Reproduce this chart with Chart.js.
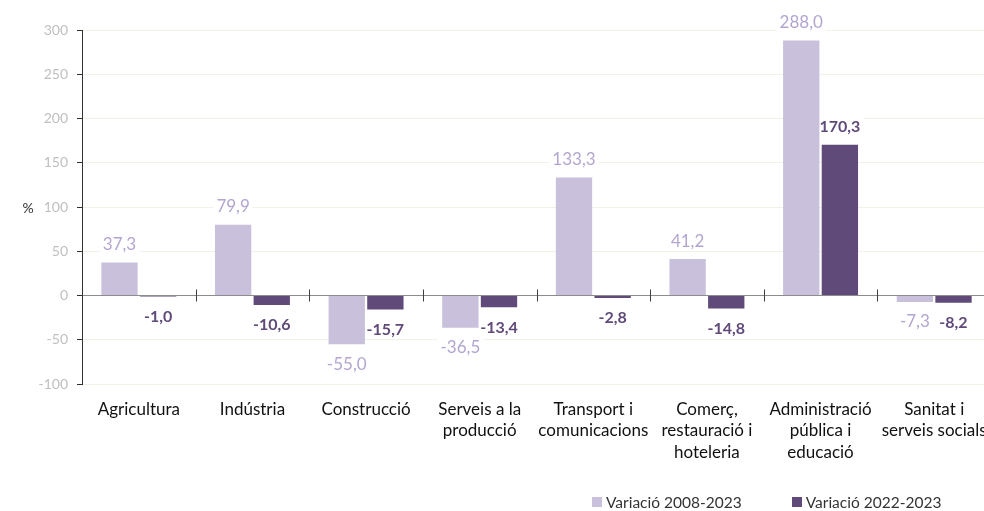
<!DOCTYPE html>
<html lang="ca">
<head>
<meta charset="utf-8">
<script src="https://cdn.jsdelivr.net/npm/chart.js@4"></script>
<style>
    html, body { margin: 0; padding: 0; background: #fff; overflow: hidden; }
    #wrap { position: relative; width: 991px; height: 511px; }
    #llegenda { position: absolute; left: 592px; top: 493px; display: flex; font-family: Lato, sans-serif; font-size: 15.5px; color: #333; }
    #llegenda .item { display: flex; align-items: center; margin-right: 50px; white-space: nowrap; }
    #llegenda .caixa { width: 10px; height: 10px; margin-right: 4px; }
</style>
</head>
<body>
<div id="wrap">
    <canvas id="graficSectors" width="991" height="511"></canvas>
    <div id="llegenda"></div>
</div>
<script>
const sectors = [
    ['Agricultura'],
    ['Indústria'],
    ['Construcció'],
    ['Serveis a la', 'producció'],
    ['Transport i', 'comunicacions'],
    ['Comerç,', 'restauració i', 'hoteleria'],
    ['Administració', 'pública i', 'educació'],
    ['Sanitat i', 'serveis socials']
];
const variacio2008 = [37.3, 79.9, -55.0, -36.5, 133.3, 41.2, 288.0, -7.3];
const variacio2022 = [-1.0, -10.6, -15.7, -13.4, -2.8, -14.8, 170.3, -8.2];
const etiquetesSeries = ['Variació 2008-2023', 'Variació 2022-2023'];
const ticksY = { min: -100, max: 300, step: 50 };

const colorClar = '#c9c0dc';
const colorFosc = '#5f4a7a';
const textClar = '#b4a5d0';

function formatCat(v) {
    return v.toFixed(1).replace('.', ',');
}

function recorreEtiquetes(chart, fn) {
    chart.data.datasets.forEach(function (ds, i) {
        const meta = chart.getDatasetMeta(i);
        const font = i === 0 ? '17px Lato, sans-serif' : 'bold 16px Lato, sans-serif';
        meta.data.forEach(function (bar, j) {
            const v = ds.data[j];
            const y = v >= 0 ? bar.y - 18 : bar.y + 20;
            fn(formatCat(v), bar.x, y, font, i);
        });
    });
}

// etiquetes de valor: el fons blanc va sota les barres, el text per sobre
const etiquetesValor = {
    id: 'etiquetesValor',
    beforeDatasetsDraw(chart) {
        const ctx = chart.ctx;
        ctx.save();
        ctx.fillStyle = '#fff';
        recorreEtiquetes(chart, function (txt, x, y, font) {
            ctx.font = font;
            const w = ctx.measureText(txt).width;
            ctx.fillRect(x - w / 2 - 3, y - 9, w + 6, 18);
        });
        ctx.restore();
    },
    afterDatasetsDraw(chart) {
        const ctx = chart.ctx;
        ctx.save();
        ctx.textAlign = 'center';
        ctx.textBaseline = 'middle';
        recorreEtiquetes(chart, function (txt, x, y, font, i) {
            ctx.font = font;
            ctx.fillStyle = i === 0 ? textClar : colorFosc;
            ctx.fillText(txt, x, y);
        });
        ctx.restore();
    }
};

// marques a la línia del zero entre categories i el símbol %
const decoracio = {
    id: 'decoracio',
    afterDatasetsDraw(chart) {
        const ctx = chart.ctx;
        const x = chart.scales.x;
        const y0 = chart.scales.y.getPixelForValue(0);
        ctx.save();
        ctx.strokeStyle = '#404040';
        ctx.lineWidth = 1;
        for (let k = 1; k < sectors.length; k++) {
            const px = Math.round((x.getPixelForValue(k - 1) + x.getPixelForValue(k)) / 2) + 0.5;
            ctx.beginPath();
            ctx.moveTo(px, y0 - 6);
            ctx.lineTo(px, y0 + 6);
            ctx.stroke();
        }
        ctx.fillStyle = '#333';
        ctx.font = '14px Lato, sans-serif';
        ctx.textAlign = 'center';
        ctx.textBaseline = 'middle';
        ctx.fillText('%', 28, chart.scales.y.getPixelForValue(100) + 1);
        ctx.restore();
    }
};

window.addEventListener('load', function () {
    const el = document.getElementById('graficSectors');
    if (!el || typeof Chart === 'undefined') {
        return;
    }

    const grafic = new Chart(el, {
        type: 'bar',
        data: {
            labels: sectors,
            datasets: [{
                label: etiquetesSeries[0],
                data: variacio2008,
                backgroundColor: colorClar,
                categoryPercentage: 0.68,
                barPercentage: 0.94
            }, {
                label: etiquetesSeries[1],
                data: variacio2022,
                backgroundColor: colorFosc,
                categoryPercentage: 0.68,
                barPercentage: 0.94
            }]
        },
        options: {
            responsive: false,
            animation: false,
            layout: {
                padding: { top: 30, right: 0, bottom: 0, left: 0 }
            },
            plugins: {
                legend: { display: false },
                tooltip: { enabled: false }
            },
            scales: {
                x: {
                    grid: { display: false, drawTicks: false },
                    border: { display: false },
                    ticks: {
                        color: '#111',
                        font: { family: 'Lato, sans-serif', size: 17, lineHeight: 1.25 },
                        padding: 15,
                        maxRotation: 0,
                        autoSkip: false
                    },
                    afterFit: function (scale) {
                        scale.height = 127;
                        scale.paddingLeft = 0;
                        scale.paddingRight = 0;
                    }
                },
                y: {
                    min: ticksY.min,
                    max: ticksY.max,
                    ticks: {
                        stepSize: ticksY.step,
                        color: '#bfbfbf',
                        font: { family: 'Lato, sans-serif', size: 14 },
                        padding: 9
                    },
                    grid: {
                        color: function (c) { return c.tick && c.tick.value === 0 ? '#8c8c8c' : '#f1f1e6'; },
                        tickColor: '#333',
                        tickLength: 5
                    },
                    border: { color: '#333', width: 1 },
                    afterFit: function (scale) { scale.width = 82; }
                }
            }
        },
        plugins: [etiquetesValor, decoracio]
    });

    const llegenda = document.getElementById('llegenda');
    grafic.data.datasets.forEach(function (ds) {
        const item = document.createElement('div');
        item.className = 'item';
        const caixa = document.createElement('span');
        caixa.className = 'caixa';
        caixa.style.background = ds.backgroundColor;
        item.appendChild(caixa);
        item.appendChild(document.createTextNode(ds.label));
        llegenda.appendChild(item);
    });
});
</script>
</body>
</html>
